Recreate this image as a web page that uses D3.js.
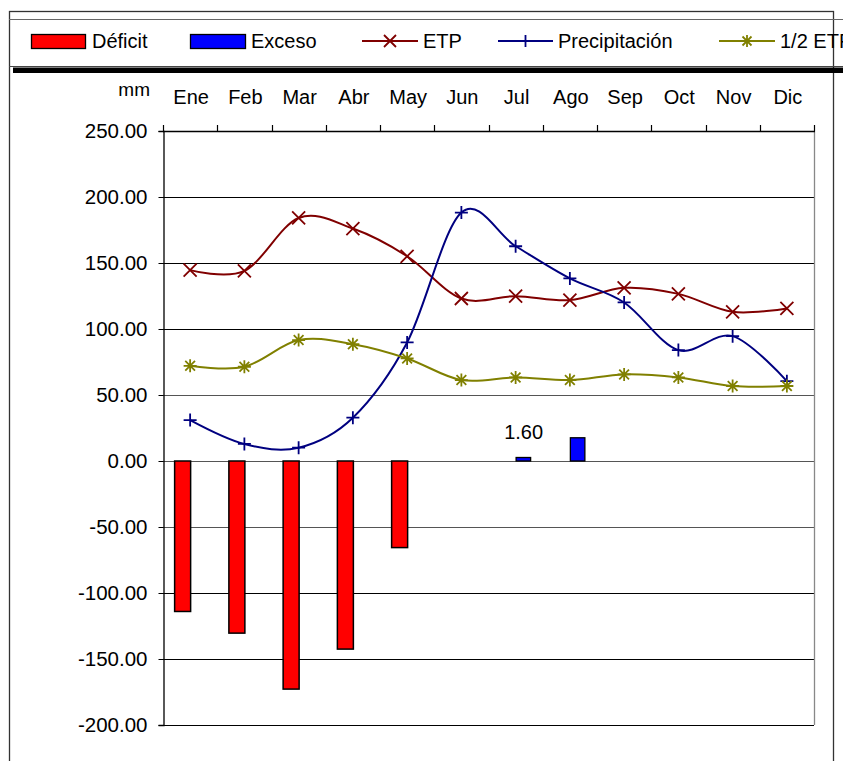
<!DOCTYPE html>
<html>
<head>
<meta charset="utf-8">
<script src="https://cdn.jsdelivr.net/npm/d3@7"></script>
<style>
  html, body { margin: 0; padding: 0; background: #fff; }
  svg { display: block; }
  text { font-family: "Liberation Sans", Arial, sans-serif; fill: #000; }
</style>
</head>
<body>
<svg id="chart" width="847" height="761"></svg>
<script>
const months = ["Ene","Feb","Mar","Abr","May","Jun","Jul","Ago","Sep","Oct","Nov","Dic"];
const etp = [144.6,144.0,184.1,176.1,155.1,123.1,124.9,121.9,131.2,126.6,113.0,115.6];
const precip = [31.0,12.9,10.1,32.8,89.8,188.2,162.7,138.3,120.1,84.0,94.6,60.5];
const halfEtp = [72.1,71.4,91.6,88.5,77.7,61.3,63.3,61.3,65.6,63.3,56.8,56.8];
const deficit = [-114.0,-130.4,-172.8,-142.5,-65.6,0,0,0,0,0,0,0];
const exceso = [0,0,0,0,0,0,1.6,17.6,0,0,0,0];
const yTicks = [250,200,150,100,50,0,-50,-100,-150,-200];
const legendItems = ["Déficit","Exceso","ETP","Precipitación","1/2 ETP"];
const barLabel = {month:"Jul", text:"1.60"};

const COL = {def:"#FF0000", exc:"#0000FF", etp:"#800000", pre:"#000080", half:"#808000"};

const svg = d3.select("#chart");
const L = 163, R = 814, T = 131, B = 725;
const x = d3.scaleBand().domain(months).range([L, R]).padding(0);
const y = d3.scaleLinear().domain([-200, 250]).range([B, T]);
const cx = m => x(m) + x.bandwidth() / 2;

// outer chart border
svg.append("rect").attr("x", 9.5).attr("y", 11.5).attr("width", 824).attr("height", 800)
  .attr("fill", "none").attr("stroke", "#333").attr("stroke-width", 1.3);

// legend box
svg.append("clipPath").attr("id", "legclip").append("rect")
  .attr("x", 0).attr("y", 0).attr("width", 843).attr("height", 70);
svg.append("line").attr("x1", 9).attr("x2", 843).attr("y1", 19.5).attr("y2", 19.5).attr("stroke", "#666");
svg.append("line").attr("x1", 9).attr("x2", 843).attr("y1", 66.5).attr("y2", 66.5).attr("stroke", "#444");
svg.append("rect").attr("x", 13).attr("y", 67.5).attr("width", 830).attr("height", 5.5).attr("fill", "#000");

const leg = svg.append("g").attr("clip-path", "url(#legclip)");
const legY = 41;
function markerPath(type, px, py, s) {
  if (type === "x") return `M${px-s},${py-s}L${px+s},${py+s}M${px-s},${py+s}L${px+s},${py-s}`;
  if (type === "+") return `M${px-s},${py}L${px+s},${py}M${px},${py-s}L${px},${py+s}`;
  const d = s * 0.75;
  return `M${px-s},${py}L${px+s},${py}M${px},${py-s}L${px},${py+s}M${px-d},${py-d}L${px+d},${py+d}M${px-d},${py+d}L${px+d},${py-d}`;
}
// swatches
[[31.5, 85.5, COL.def, 92, legendItems[0]], [190.5, 245.5, COL.exc, 251, legendItems[1]]].forEach(([a, b, c, tx, t]) => {
  leg.append("rect").attr("x", a).attr("y", 34.5).attr("width", b - a).attr("height", 14)
    .attr("fill", c).attr("stroke", "#000").attr("stroke-width", 1.3);
  leg.append("text").attr("x", tx).attr("y", legY).attr("dy", "0.35em").attr("font-size", 20).text(t);
});
[[362, 418, COL.etp, "x", 423, legendItems[2]], [498, 553, COL.pre, "+", 558, legendItems[3]], [719, 775, COL.half, "*", 780, legendItems[4]]]
  .forEach(([a, b, c, m, tx, t]) => {
    leg.append("line").attr("x1", a).attr("x2", b).attr("y1", legY).attr("y2", legY).attr("stroke", c).attr("stroke-width", 2);
    leg.append("path").attr("d", markerPath(m, (a + b) / 2, legY, 6)).attr("stroke", c).attr("stroke-width", 1.8).attr("fill", "none");
    leg.append("text").attr("x", tx).attr("y", legY).attr("dy", "0.35em").attr("font-size", 20).text(t);
  });

// gridlines
svg.append("g").selectAll("line").data(yTicks).join("line")
  .attr("x1", L).attr("x2", R)
  .attr("y1", d => Math.round(y(d)) + 0.5).attr("y2", d => Math.round(y(d)) + 0.5)
  .attr("stroke", d => (d === 0 || d === 50 || d === -50) ? "#555" : "#000").attr("stroke-width", 1.2);
// right plot border
svg.append("line").attr("x1", R + 0.5).attr("x2", R + 0.5).attr("y1", T).attr("y2", B)
  .attr("stroke", "#888").attr("stroke-width", 1.3);

// left axis
const fmt = d3.format(".2f");
const yAxis = d3.axisLeft(y).tickValues(yTicks).tickSize(5).tickPadding(11)
  .tickFormat(d => fmt(d).replace("\u2212", "-"));
const ya = svg.append("g").attr("transform", `translate(${L + 0.5},0)`).call(yAxis);
ya.select(".domain").attr("stroke", "#000").attr("stroke-width", 1.3);
ya.selectAll(".tick line").attr("stroke", "#000");
ya.selectAll("text").attr("font-size", 20.5).attr("font-family", "Liberation Sans, Arial, sans-serif").attr("fill", "#000");

// top axis with ticks at category boundaries
const boundaries = months.map(m => x(m)).concat([R]);
svg.append("g").selectAll("line").data(boundaries).join("line")
  .attr("x1", d => Math.round(d) + 0.5).attr("x2", d => Math.round(d) + 0.5)
  .attr("y1", T - 6).attr("y2", T).attr("stroke", "#000").attr("stroke-width", 1.2);
svg.append("line").attr("x1", L).attr("x2", R + 1).attr("y1", Math.round(y(250)) + 0.5).attr("y2", Math.round(y(250)) + 0.5)
  .attr("stroke", "#000").attr("stroke-width", 1.3);
svg.append("g").selectAll("text").data(months).join("text")
  .attr("x", d => cx(d) + 1).attr("y", 97).attr("dy", "0.35em").attr("text-anchor", "middle")
  .attr("font-size", 20).text(d => d);
svg.append("text").attr("x", 150).attr("y", 89).attr("dy", "0.35em").attr("text-anchor", "end")
  .attr("font-size", 19).text("mm");

// bars
const bw = 16;
svg.append("g").selectAll("rect").data(months.map((m, i) => ({m, v: deficit[i]})).filter(d => d.v !== 0)).join("rect")
  .attr("x", d => cx(d.m) - 15.5).attr("width", bw)
  .attr("y", y(0)).attr("height", d => y(d.v) - y(0))
  .attr("fill", COL.def).attr("stroke", "#000").attr("stroke-width", 1.5);
svg.append("g").selectAll("rect").data(months.map((m, i) => ({m, v: exceso[i]})).filter(d => d.v !== 0)).join("rect")
  .attr("x", d => cx(d.m) + 0.5).attr("width", bw - 1.5)
  .attr("y", d => Math.min(y(d.v), y(0) - 3.5)).attr("height", d => Math.max(y(0) - y(d.v), 3.5))
  .attr("fill", COL.exc).attr("stroke", "#000").attr("stroke-width", 1.3);
const lbIdx = months.indexOf(barLabel.month);
svg.append("text").attr("x", cx(barLabel.month) + 8).attr("y", y(exceso[lbIdx]) - 20)
  .attr("text-anchor", "middle").attr("font-size", 20).text(barLabel.text);

// lines
const lineGen = d3.line().x((d, i) => cx(months[i])).y(d => y(d)).curve(d3.curveCardinal.tension(0));
[[etp, COL.etp, "x"], [precip, COL.pre, "+"], [halfEtp, COL.half, "*"]].forEach(([data, c, m]) => {
  svg.append("path").datum(data).attr("d", lineGen).attr("fill", "none").attr("stroke", c).attr("stroke-width", 2);
  svg.append("g").selectAll("path").data(data).join("path")
    .attr("d", (d, i) => markerPath(m, cx(months[i]), y(d), 6.5))
    .attr("stroke", c).attr("stroke-width", 1.8).attr("fill", "none");
});
</script>
</body>
</html>
